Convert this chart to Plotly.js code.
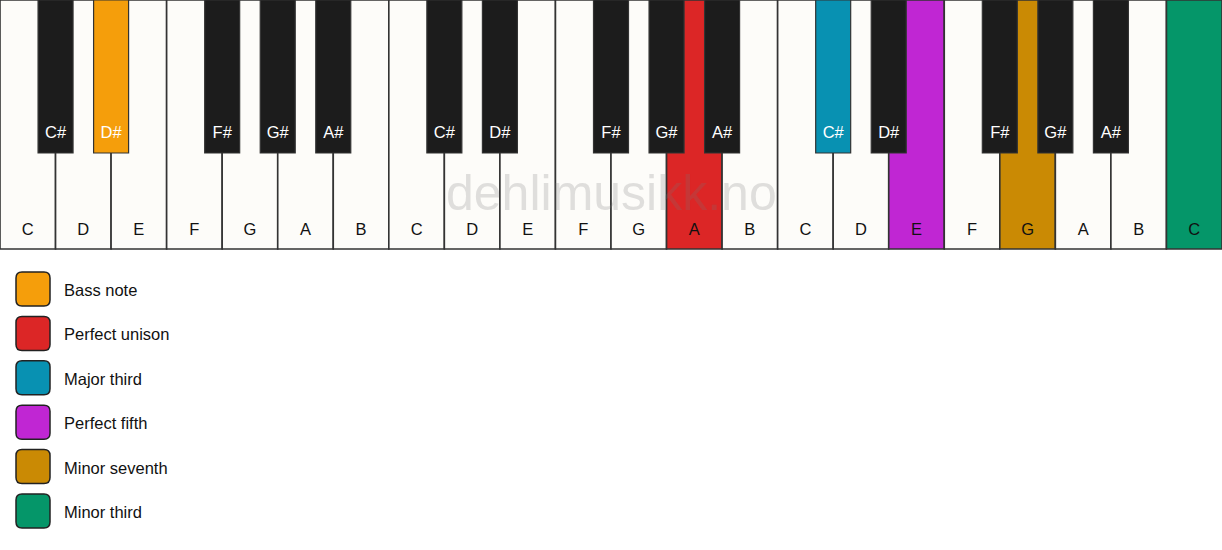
<!DOCTYPE html>
<html>
<head>
<meta charset="utf-8">
<script src="https://cdn.plot.ly/plotly-3.0.1.min.js"></script>
<style>
  html, body { margin: 0; padding: 0; background: #ffffff; }
  #keyboard { width: 1222px; height: 550px; }
</style>
</head>
<body>
<div id="keyboard"></div>
<script>
// keyboard content
const whiteNotes = ['C', 'D', 'E', 'F', 'G', 'A', 'B'];
const blackNotes = ['C#', 'D#', 'F#', 'G#', 'A#'];
// white key index (within octave) that each black key sits after
const blackAfter = [0, 1, 3, 4, 5];
const octaves = [1, 2, 3];
const topNote = 'C4';

// highlighted notes and legend, same order
const legendLabels = ['Bass note', 'Perfect unison', 'Major third', 'Perfect fifth', 'Minor seventh', 'Minor third'];
const legendColors = ['#f59e0b', '#dc2626', '#0891b2', '#c026d3', '#ca8a04', '#059669'];
const highlightNotes = ['D#1', 'A2', 'C#3', 'E3', 'G3', 'C4'];

const WIDTH = 1222;
const HEIGHT = 550;
const whiteFill = '#fdfcf9';
const blackFill = '#1c1c1c';
const edge = '#333333';
const font = 'Liberation Sans, Arial, sans-serif';

// build key lists
const whiteKeys = [];
const blackKeys = [];
octaves.forEach((o) => {
  whiteNotes.forEach((n) => whiteKeys.push({ note: n, id: n + o }));
  blackNotes.forEach((n, i) => blackKeys.push({ note: n, id: n + o, after: (o - 1) * 7 + blackAfter[i] }));
});
whiteKeys.push({ note: topNote.replace(/\d/, ''), id: topNote });

const keyW = WIDTH / whiteKeys.length;
const whiteH = 249;
const blackH = 153;
const blackW = 35;

const colorOf = (id, dflt) => {
  const k = highlightNotes.indexOf(id);
  return k >= 0 ? legendColors[k] : dflt;
};

const whiteX = whiteKeys.map((k, i) => i * keyW + keyW / 2);
const blackX = blackKeys.map(k => (k.after + 1) * keyW);

const traces = [
  {
    type: 'bar',
    x: whiteX,
    y: whiteKeys.map(() => whiteH),
    base: 0,
    width: keyW,
    marker: {
      color: whiteKeys.map(k => colorOf(k.id, whiteFill)),
      line: { color: edge, width: 1.6 },
    },
    hoverinfo: 'skip',
    cliponaxis: false,
  },
  {
    type: 'bar',
    x: blackX,
    y: blackKeys.map(() => blackH),
    base: 0,
    width: blackW,
    marker: {
      color: blackKeys.map(k => colorOf(k.id, blackFill)),
      line: { color: edge, width: 1.2 },
    },
    hoverinfo: 'skip',
    cliponaxis: false,
  },
  {
    type: 'scatter',
    mode: 'text',
    x: whiteX,
    y: whiteKeys.map(() => 231),
    text: whiteKeys.map(k => k.note),
    textfont: { family: font, size: 16.5, color: '#111111' },
    hoverinfo: 'skip',
  },
  {
    type: 'scatter',
    mode: 'text',
    x: blackX,
    y: blackKeys.map(() => 134),
    text: blackKeys.map(k => k.note),
    textfont: { family: font, size: 16.5, color: '#ffffff' },
    hoverinfo: 'skip',
  },
];

// legend swatches: rounded squares
const sw = 34;
const r = 6;
const legendY = legendLabels.map((l, i) => 289 + i * 44.4);
const roundRect = (x0, y0, w, h) => {
  const x1 = x0 + w;
  const y1 = y0 + h;
  return `M ${x0 + r} ${y0} L ${x1 - r} ${y0} Q ${x1} ${y0} ${x1} ${y0 + r} ` +
    `L ${x1} ${y1 - r} Q ${x1} ${y1} ${x1 - r} ${y1} L ${x0 + r} ${y1} ` +
    `Q ${x0} ${y1} ${x0} ${y1 - r} L ${x0} ${y0 + r} Q ${x0} ${y0} ${x0 + r} ${y0} Z`;
};
const shapes = legendY.map((cy, i) => ({
  type: 'path',
  xref: 'x',
  yref: 'y',
  path: roundRect(16, cy - sw / 2, sw, sw),
  fillcolor: legendColors[i],
  line: { color: '#222222', width: 1.5 },
}));

const annotations = legendY.map((cy, i) => ({
  x: 62,
  y: cy + 1,
  xref: 'x',
  yref: 'y',
  text: legendLabels[i],
  showarrow: false,
  xanchor: 'left',
  yanchor: 'middle',
  font: { family: font, size: 16.5, color: '#111111' },
}));
annotations.push({
  x: 611,
  y: 193,
  xref: 'x',
  yref: 'y',
  text: 'dehlimusikk.no',
  showarrow: false,
  xanchor: 'center',
  yanchor: 'middle',
  font: { family: font, size: 50, color: 'rgba(120,120,120,0.22)' },
});

const layout = {
  width: WIDTH,
  height: HEIGHT,
  margin: { l: 0, r: 0, t: 0, b: 0 },
  paper_bgcolor: '#ffffff',
  plot_bgcolor: '#ffffff',
  barmode: 'overlay',
  showlegend: false,
  xaxis: { range: [0, WIDTH], visible: false, fixedrange: true },
  yaxis: { range: [HEIGHT, 0], visible: false, fixedrange: true },
  shapes,
  annotations,
};

Plotly.newPlot('keyboard', traces, layout, { staticPlot: true, displayModeBar: false });
</script>
</body>
</html>
